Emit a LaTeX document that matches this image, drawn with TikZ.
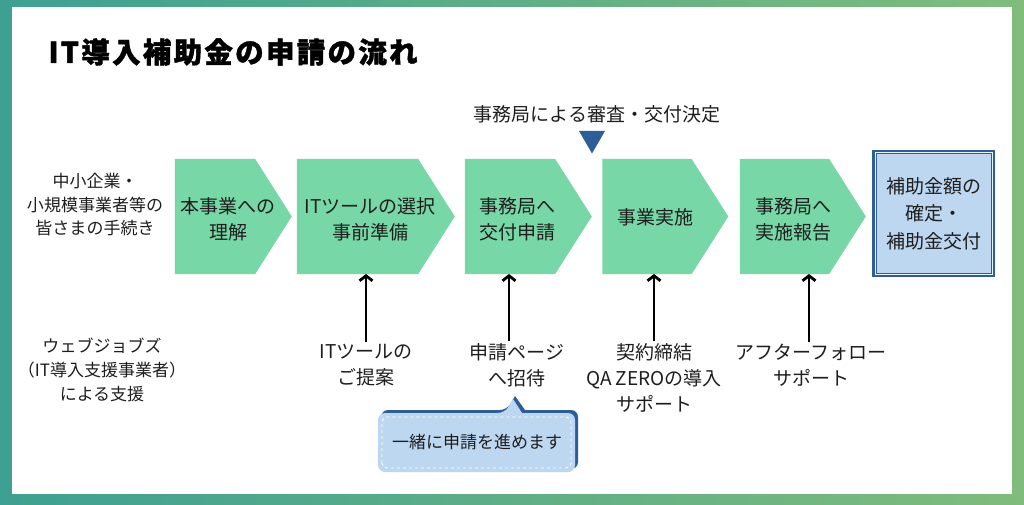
\documentclass[tikz,border=0pt]{standalone}
\usepackage{fontspec}
\setmainfont{Noto Sans CJK JP}
\usepackage{xcolor}
\usetikzlibrary{shapes.symbols,shapes.geometric,arrows.meta}

\definecolor{chevgreen}{RGB}{119,215,167}
\definecolor{boxblue}{RGB}{189,215,241}
\definecolor{darkblue}{RGB}{46,94,152}
\definecolor{inkgray}{RGB}{30,30,30}
\definecolor{bgteal}{RGB}{62,160,146}
\definecolor{bggreen}{RGB}{34,156,108}
\definecolor{bglight}{RGB}{128,188,124}

\tikzset{
  chev/.style={signal, signal to=east, signal pointer angle=115, fill=chevgreen,
    minimum height=115pt, inner sep=0pt, outer sep=0pt},
  chevtext/.style={align=center, text=inkgray, font=\fontsize{19}{26}\selectfont},
  sidetext/.style={align=center, text=inkgray, font=\fontsize{17}{23.5}\selectfont},
  helptext/.style={align=center, text=inkgray, font=\fontsize{19}{26}\selectfont, inner sep=2pt},
  supportarrow/.style={line width=2.8pt, -{Straight Barb[length=5pt,width=13pt]}},
}

\begin{document}
\begin{tikzpicture}[x=1pt, y=1pt]
    \useasboundingbox (0,0) rectangle (1024,504);
    % frame
    \shade[left color=bgteal, middle color=bggreen, right color=bglight] (0,0) rectangle (1024,504);
    \fill[white] (12,10) rectangle (1012,497);

    \node[anchor=west, text=black, font=\fontsize{28.5}{30}\bfseries\addfontfeature{LetterSpace=8,FakeBold=1.4}] (title) at (45,452) {IT導入補助金の申請の流れ};

    % steps
    \node[chev, minimum width=117pt] (understand) at (215,287.5) {};
    \node[chev, minimum width=158pt] (select) at (357.5,287.5) {};
    \node[chev, minimum width=127pt] (apply) at (510,287.5) {};
    \node[chev, minimum width=126pt] (implement) at (647,287.5) {};
    \node[chev, minimum width=126pt] (report) at (784.5,287.5) {};
    \node[draw=darkblue, line width=4.5pt, fill=boxblue, minimum width=118.5pt, minimum height=122.5pt,
      align=center, text=inkgray, font=\fontsize{19}{27.5}\selectfont] (grant) at (933.5,290.5) {補助金額の\\確定・\\補助金交付};
    \draw[white!70!boxblue, line width=1pt] ([xshift=3pt,yshift=-3pt]grant.north west) rectangle ([xshift=-3pt,yshift=3pt]grant.south east);

    \node[chevtext] (understandtext) at ([xshift=13pt,yshift=-3pt]understand.center) {本事業への\\理解};
    \node[chevtext] (selecttext) at ([xshift=12.5pt,yshift=-3pt]select.center) {ITツールの選択\\事前準備};
    \node[chevtext] (applytext) at ([xshift=7pt,yshift=-3pt]apply.center) {事務局へ\\交付申請};
    \node[chevtext] (implementtext) at ([xshift=8pt,yshift=-1pt]implement.center) {事業実施};
    \node[chevtext] (reporttext) at ([xshift=8.5pt,yshift=-3pt]report.center) {事務局へ\\実施報告};

    % review
    \node[chevtext] (review) at (597,390) {事務局による審査・交付決定};
    \node[regular polygon, regular polygon sides=3, shape border rotate=180, fill=darkblue,
      minimum size=30pt, inner sep=0pt] (reviewmark) at (592,365.5) {};

    % rows
    \node[sidetext] (applicant) at (95,299) {中小企業・\\小規模事業者等の\\皆さまの手続き};
    \node[sidetext, font=\fontsize{17}{24}\selectfont] (vendor) at (102,134) {ウェブジョブズ\\（IT導入支援事業者）\\による支援};

    \node[helptext] (propose) at (366,139) {ITツールの\\ご提案};
    \node[helptext] (invite) at (517,139) {申請ページ\\へ招待};
    \node[helptext] (contract) at (654,126) {契約締結\\QA ZEROの導入\\サポート};
    \node[helptext] (follow) at (811,139) {アフターフォロー\\サポート};

    \draw[supportarrow] (propose.north) -- (propose.north |- select.south);
    \draw[supportarrow] ([xshift=-8pt]invite.north) -- ([xshift=-8pt]invite.north |- apply.south);
    \draw[supportarrow] (contract.north) -- (contract.north |- implement.south);
    \draw[supportarrow] ([xshift=-2pt]follow.north) -- ([xshift=-2pt]follow.north |- report.south);

    % speech bubble
    \fill[darkblue, rounded corners=7pt] (381,63) -- (381,94) -- (507,94) [sharp corners] -- (515,108) -- (525,94) [rounded corners=7pt] -- (578,94) -- (578,35) -- (381,35) -- cycle;
    \fill[boxblue, rounded corners=7pt] (378,60) -- (378,91) -- (505,91) [sharp corners] -- (513,105) -- (522,91) [rounded corners=7pt] -- (575,91) -- (575,32) -- (378,32) -- cycle;
    \draw[white, dashed, line width=0.9pt, rounded corners=5pt] (382,36) rectangle (571,87);
    \node[text=inkgray, font=\fontsize{17}{20}\selectfont] (together) at (477,62) {一緒に申請を進めます};
\end{tikzpicture}
\end{document}
